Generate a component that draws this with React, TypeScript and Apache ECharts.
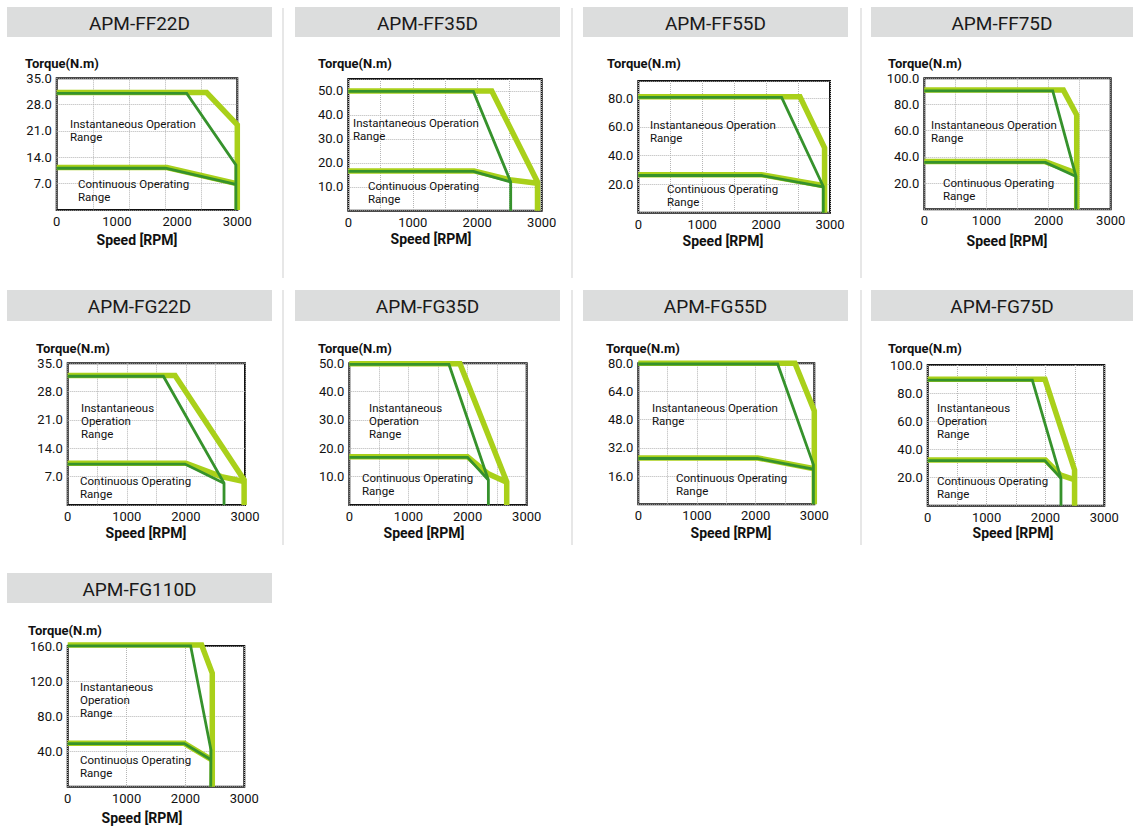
import React, { useEffect, useRef } from "react";
import * as echarts from "echarts";

// ---------- data ----------
const titles = ["APM-FF22D", "APM-FF35D", "APM-FF55D", "APM-FF75D", "APM-FG22D", "APM-FG35D", "APM-FG55D", "APM-FG75D", "APM-FG110D"];
const yMax = [35, 55, 92, 100, 35, 50, 80, 100, 160];
const yStep = [7, 10, 20, 20, 7, 10, 16, 20, 40];
const xGridStep = [600, 500, 500, 500, 500, 500, 500, 500, 1000];
const xLabelStep = 1000;
const xMax = 3000;
const xAxisName = "Speed [RPM]";
const yAxisName = "Torque(N.m)";

const ff22InstLime = [[0, 31.2], [2490, 31.2], [3000, 22.6], [3000, 0]];
const ff22InstDark = [[0, 31], [2160, 31], [2977, 12], [2977, 0]];
const ff22ContLime = [[0, 11.3], [1830, 11.3], [2990, 7]];
const ff22ContDark = [[0, 11.1], [1810, 11.1], [2977, 6.8]];

const ff35InstLime = [[0, 50], [2225, 50], [2935, 12], [2935, 0]];
const ff35InstDark = [[0, 49.8], [1940, 49.8], [2519, 12], [2519, 0]];
const ff35ContLime = [[0, 16.6], [1950, 16.6], [2530, 12.8], [2935, 11.5]];
const ff35ContDark = [[0, 16.4], [1940, 16.4], [2519, 12]];

const ff55InstLime = [[0, 81], [2530, 81], [2915, 45.3], [2915, 0]];
const ff55InstDark = [[0, 80.5], [2243, 80.5], [2895, 18.3], [2895, 0]];
const ff55ContLime = [[0, 26.5], [1930, 26.5], [2910, 18.8]];
const ff55ContDark = [[0, 26], [1930, 26], [2895, 18]];

const ff75InstLime = [[0, 91], [2238, 91], [2453, 72], [2453, 0]];
const ff75InstDark = [[0, 90.4], [2067, 90.4], [2442, 25], [2442, 0]];
const ff75ContLime = [[0, 36.4], [1943, 36.4], [2453, 27.5]];
const ff75ContDark = [[0, 35.8], [1950, 35.8], [2442, 25]];

const fg22InstLime = [[0, 32], [1816, 32], [2985, 6.2], [2985, 0]];
const fg22InstDark = [[0, 31.8], [1619, 31.8], [2645, 5.4], [2645, 0]];
const fg22ContLime = [[0, 10.3], [2000, 10.3], [2600, 7], [2985, 5.8]];
const fg22ContDark = [[0, 10.1], [1985, 10.1], [2645, 5.4]];

const fg35InstLime = [[0, 49.8], [1872, 49.8], [2662, 8.2], [2662, 0]];
const fg35InstDark = [[0, 49.6], [1686, 49.6], [2352, 8.8], [2352, 0]];
const fg35ContLime = [[0, 17], [2000, 17], [2350, 11], [2662, 8]];
const fg35ContDark = [[0, 16.8], [2000, 16.8], [2352, 8.8]];

const fg55InstLime = [[0, 80], [2670, 80], [3000, 53], [3000, 0]];
const fg55InstDark = [[0, 79.6], [2375, 79.6], [2985, 22.5], [2985, 0]];
const fg55ContLime = [[0, 26.3], [2034, 26.3], [3000, 20.2]];
const fg55ContDark = [[0, 26], [2030, 26], [2985, 20]];

const fg75InstLime = [[0, 89.8], [1992, 89.8], [2495, 25.4], [2495, 0]];
const fg75InstDark = [[0, 89.3], [1777, 89.3], [2264, 19.4], [2264, 0]];
const fg75ContLime = [[0, 32.5], [2000, 32.5], [2250, 22], [2490, 18.5]];
const fg75ContDark = [[0, 32], [1990, 32], [2264, 19.4]];

const fg110InstLime = [[0, 161], [2275, 161], [2456, 129], [2456, 0]];
const fg110InstDark = [[0, 160.2], [2088, 160.2], [2434, 41.7], [2430, 0]];
const fg110ContLime = [[0, 49.3], [1981, 49.3], [2456, 30.3]];
const fg110ContDark = [[0, 49], [1981, 49], [2430, 31]];

const instLime = [ff22InstLime, ff35InstLime, ff55InstLime, ff75InstLime, fg22InstLime, fg35InstLime, fg55InstLime, fg75InstLime, fg110InstLime];
const instDark = [ff22InstDark, ff35InstDark, ff55InstDark, ff75InstDark, fg22InstDark, fg35InstDark, fg55InstDark, fg75InstDark, fg110InstDark];
const contLime = [ff22ContLime, ff35ContLime, ff55ContLime, ff75ContLime, fg22ContLime, fg35ContLime, fg55ContLime, fg75ContLime, fg110ContLime];
const contDark = [ff22ContDark, ff35ContDark, ff55ContDark, ff75ContDark, fg22ContDark, fg35ContDark, fg55ContDark, fg75ContDark, fg110ContDark];

const instText2 = "Instantaneous Operation\nRange";
const instText3 = "Instantaneous\nOperation\nRange";
const contText = "Continuous Operating\nRange";
const instTexts = [instText2, instText2, instText2, instText2, instText3, instText3, instText2, instText3, instText3];

// ---------- layout ----------
// plot rects: left, top, right, bottom
const plots = [
  [56.7, 78.3, 237.3, 210],
  [348.3, 79, 541.7, 210.7],
  [638.3, 81, 830, 212.7],
  [924.3, 78.3, 1110.7, 209.3],
  [67.7, 363.3, 245, 505],
  [349.3, 363.3, 526.7, 505],
  [638.3, 363.3, 814.3, 504.3],
  [927.7, 365, 1104.3, 505.7],
  [67.7, 646, 244.3, 786.7],
];
// header rects: x1, y1, x2, y2
const headers = [
  [7, 7, 272, 37], [295, 7, 560, 37], [583, 7, 848, 37], [871, 7, 1133, 37],
  [7, 290, 272, 321], [295, 290, 560, 321], [583, 290, 848, 321], [871, 290, 1133, 321],
  [7, 573, 272, 603],
];
const torquePos = [[25, 63], [318, 63], [607, 63], [888, 63], [36, 348], [318, 348], [606, 348], [888, 348], [28, 630]];
const speedPos = [[137, 240], [431, 239], [723, 241], [1007, 241], [146, 533], [424, 533], [731, 533], [1013, 533], [142, 818]];
const instPos = [[70, 124], [353, 123], [650, 125], [931, 125], [81, 408], [369, 408], [652, 408], [937, 408], [80, 687]];
const contPos = [[78, 184], [368, 186], [667, 189], [943, 183], [80, 481], [362, 478], [676, 478], [937, 481], [80, 760]];
const separators = [
  [283, 8, 283, 278], [572, 8, 572, 278], [861, 8, 861, 278],
  [283, 290, 283, 545], [572, 290, 572, 545], [861, 290, 861, 545],
];

const LIME = "#a9d01a";
const DARK = "#36922c";
const TXT = "#111";
const FONT = "Roboto, 'Noto Sans', sans-serif";

export default function App() {
  const ref = useRef<HTMLDivElement>(null);
  useEffect(() => {
    document.body.style.margin = "0";
    const chart = echarts.init(ref.current!, null, { renderer: "svg" });
    const grid: any[] = [];
    const xAxis: any[] = [];
    const yAxis: any[] = [];
    const series: any[] = [];
    const graphic: any[] = [];

    separators.forEach((s) => {
      graphic.push({ type: "line", shape: { x1: s[0], y1: s[1], x2: s[2], y2: s[3] }, style: { stroke: "#cfcfcf", lineWidth: 1 }, silent: true });
    });

    titles.forEach((t, i) => {
      const [l, tp, r, b] = plots[i];
      grid.push({ left: l, top: tp, width: r - l, height: b - tp, show: true, borderColor: "#111", borderWidth: 2, backgroundColor: "#fff" });
      xAxis.push({
        gridIndex: i, type: "value", min: 0, max: xMax, interval: xLabelStep,
        axisLine: { show: false }, axisTick: { show: false }, splitLine: { show: false },
        axisLabel: { color: TXT, fontSize: 13, fontFamily: FONT, margin: 5, formatter: (v: number) => String(v) },
      });
      xAxis.push({
        gridIndex: i, type: "value", min: 0, max: xMax, interval: xGridStep[i], position: "bottom",
        axisLine: { show: false }, axisTick: { show: false }, axisLabel: { show: false },
        splitLine: { show: true, lineStyle: { type: "dotted", color: "#b5b5b5", width: 1 } },
      });
      yAxis.push({
        gridIndex: i, type: "value", min: 0, max: yMax[i], interval: yStep[i],
        axisLine: { show: false }, axisTick: { show: false },
        splitLine: { show: true, lineStyle: { type: "dotted", color: "#b5b5b5", width: 1 } },
        axisLabel: {
          color: TXT, fontSize: 13, fontFamily: FONT, margin: 5,
          showMinLabel: false, showMaxLabel: yMax[i] % yStep[i] === 0,
          formatter: (v: number) => v.toFixed(1),
        },
      });
      const common = { type: "line", xAxisIndex: 2 * i, yAxisIndex: i, symbol: "none", clip: false, silent: true };
      series.push({ ...common, name: t + " Instantaneous max", data: instLime[i], lineStyle: { color: LIME, width: 5.5, join: "miter" }, z: 3 });
      series.push({ ...common, name: t + " Continuous max", data: contLime[i], lineStyle: { color: LIME, width: 5.5, join: "miter" }, z: 3 });
      series.push({ ...common, name: t + " Instantaneous", data: instDark[i], lineStyle: { color: DARK, width: 2.8, join: "miter" }, z: 4 });
      series.push({ ...common, name: t + " Continuous", data: contDark[i], lineStyle: { color: DARK, width: 2.8, join: "miter" }, z: 4 });

      const h = headers[i];
      graphic.push({ type: "rect", shape: { x: h[0], y: h[1], width: h[2] - h[0], height: h[3] - h[1] }, style: { fill: "#dcdddd" }, silent: true });
      graphic.push({
        type: "text", x: (h[0] + h[2]) / 2, y: (h[1] + h[3]) / 2 + 1,
        style: { text: t, fill: "#1a1a1a", fontSize: 19, fontWeight: "normal", fontFamily: FONT, align: "center", verticalAlign: "middle", textAlign: "center", textVerticalAlign: "middle" },
      });
      graphic.push({
        type: "text", x: torquePos[i][0], y: torquePos[i][1],
        style: { text: yAxisName, fill: "#111", fontSize: 13, fontWeight: "bold", fontFamily: FONT, align: "left", verticalAlign: "middle", textAlign: "left", textVerticalAlign: "middle" },
      });
      graphic.push({
        type: "text", x: speedPos[i][0], y: speedPos[i][1],
        style: { text: xAxisName, fill: "#111", fontSize: 14, fontWeight: "bold", fontFamily: FONT, align: "center", verticalAlign: "middle", textAlign: "center", textVerticalAlign: "middle" },
      });
      graphic.push({
        type: "text", x: instPos[i][0], y: instPos[i][1] - 6.5, z: 10,
        style: { text: instTexts[i], fill: "#111", fontSize: 11.5, lineHeight: 13, fontFamily: FONT, align: "left", verticalAlign: "top", textAlign: "left", textVerticalAlign: "top" },
      });
      graphic.push({
        type: "text", x: contPos[i][0], y: contPos[i][1] - 6.5, z: 10,
        style: { text: contText, fill: "#111", fontSize: 11.5, lineHeight: 13, fontFamily: FONT, align: "left", verticalAlign: "top", textAlign: "left", textVerticalAlign: "top" },
      });
    });

    chart.setOption({
      animation: false,
      backgroundColor: "#fff",
      grid, xAxis, yAxis, series, graphic,
    });
    return () => chart.dispose();
  }, []);
  return <div ref={ref} style={{ width: 1133, height: 828 }} />;
}
